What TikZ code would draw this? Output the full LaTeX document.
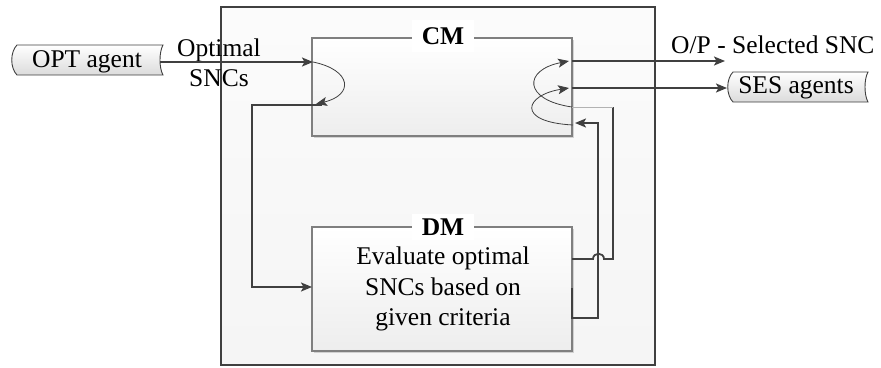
\documentclass[tikz,border=0pt]{standalone}
\usepackage{fontspec}
\setmainfont{LiberationSerif-Regular.ttf}[BoldFont=LiberationSerif-Bold.ttf]
\usetikzlibrary{arrows.meta,shadows}
\definecolor{linegray}{HTML}{404040}
\definecolor{edgegray}{HTML}{7F7F7F}
\begin{document}
\begin{tikzpicture}[x=1pt,y=-1pt,
  font=\fontsize{25.5}{30.5}\selectfont,
  thick line/.style={draw=linegray,line width=1.8pt},
  thin line/.style={draw=linegray,line width=0.8pt},
  arrowtip/.style={-{Stealth[length=11pt,width=9pt,inset=2.5pt]}},
  module/.style={draw=edgegray,line width=1.4pt,top color=white,bottom color=gray!14,
    drop shadow={shadow xshift=2pt,shadow yshift=-2pt,fill=black,opacity=0.15},
    minimum width=260pt,inner sep=0pt},
  title/.style={fill=white,font=\fontsize{25.5}{30.5}\selectfont\bfseries,
    minimum width=62pt,inner sep=0pt},
  storage/.style={draw=linegray,line width=0.9pt,top color=white,bottom color=gray!28}]
\useasboundingbox (0,0) rectangle (881,367);

% system boundary
\node[draw=linegray,line width=1.8pt,top color=gray!3,bottom color=gray!8,
  minimum width=434pt,minimum height=358pt,inner sep=0pt] (sys) at (438,186) {};

% modules
\node[module,minimum height=98pt] (cm) at (442,87) {};
\node[module,minimum height=124pt] (dm) at (442,289) {};
\node[title,minimum height=32pt] (cmtitle) at (443,36) {CM};
\node[title,minimum height=26pt] (dmtitle) at (443,227) {DM};
\node[align=center,inner sep=0pt] (dmtext) at (443,289)
  {Evaluate optimal\\SNCs based on\\given criteria};

% external agents (stored-data shapes)
\path[storage] (17,45) -- (163,45) .. controls (159,52) and (159,68) .. (163,75)
  -- (17,75) .. controls (10,68) and (10,52) .. (17,45) -- cycle;
\node[inner sep=0pt] (opt) at (87,62) {OPT agent};
\path[storage] (733,72) -- (868,72) .. controls (864,79) and (864,95) .. (868,102)
  -- (733,102) .. controls (726,95) and (726,79) .. (733,72) -- cycle;
\node[inner sep=0pt] (ses) at (796,88) {SES agents};

% labels
\node[align=center,inner sep=0pt] (inlabel) at (219,63) {Optimal\\SNCs};
\node[anchor=west,inner sep=0pt] (outlabel) at (671,45) {O/P - Selected SNC};

% connection points
\coordinate (optE) at (160,62);
\coordinate (cmIn) at (313,62);
\coordinate (cmBack) at (316,104);
\coordinate (cmLeftOut) at (322,105);
\coordinate (dmIn) at (312,287);
\coordinate (cmOut) at (572,61);
\coordinate (cmSes) at (572,88);
\coordinate (outEnd) at (725,61);
\coordinate (sesW) at (727,88);
\coordinate (dmOutA) at (572,259);
\coordinate (dmOutB) at (572,288);
\coordinate (cmFbA) at (572,107);
\coordinate (cmFbB) at (575,123);

% input from OPT agent and hand-over to DM
\draw[thick line,arrowtip] (optE) -- (cmIn);
\draw[thin line,arrowtip] (cmIn) .. controls (352,70) and (354,95) .. (cmBack);
\draw[thick line,arrowtip] (cmLeftOut) -- (252,105) -- (252,287) -- (dmIn);

% outputs of CM
\draw[thick line,arrowtip] (cmOut) -- (outEnd);
\draw[thick line,arrowtip] (cmSes) -- (sesW);
\draw[thin line,arrowtip] (cmFbA) .. controls (523,100) and (523,70) .. (569,61);
\draw[thin line,arrowtip] (573,125) .. controls (515,122) and (525,95) .. (569,88);

% feedback from DM to CM
\draw[thick line] (dmOutA) -- (593,259) .. controls (593,252) and (604,252) .. (604,259)
  -- (613,259) -- (613,107);
\draw[draw=gray!60,line width=0.9pt] (613,107) -- (cmFbA);
\draw[thick line,arrowtip] (dmOutB) -- (572,318) -- (598,318) -- (598,123) -- (cmFbB);
\end{tikzpicture}
\end{document}
